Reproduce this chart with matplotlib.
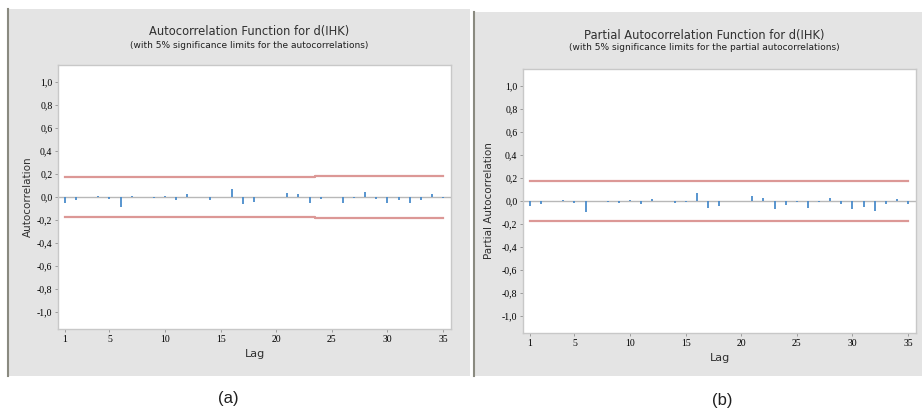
import numpy as np
import matplotlib
matplotlib.use("Agg")
from matplotlib import pyplot as plt
from matplotlib.patches import Rectangle
from matplotlib.lines import Line2D

# lags and estimated values
lags = np.arange(1, 36)
acf_vals = [-0.05, -0.03, 0.0, 0.01, -0.02, -0.09, 0.01, 0.0, -0.01, 0.01,
            -0.025, 0.025, 0.003, -0.025, 0.0, 0.07, -0.06, -0.045, 0.0, 0.0,
            0.035, 0.025, -0.05, -0.015, 0.0, -0.05, -0.012, 0.04, -0.02, -0.055,
            -0.03, -0.05, -0.03, 0.025, -0.01]
acf_limits = [0.174] * 23 + [0.183] * 12
pacf_vals = [-0.047, -0.03, 0.0, 0.01, -0.02, -0.095, 0.0, -0.01, -0.015, 0.01,
             -0.03, 0.015, 0.0, -0.02, -0.01, 0.07, -0.065, -0.047, 0.004, 0.004,
             0.04, 0.03, -0.068, -0.035, -0.01, -0.065, -0.01, 0.03, -0.03, -0.068,
             -0.05, -0.088, -0.025, 0.02, -0.025]
pacf_limit = 0.175

yticks = np.round(np.arange(-1.0, 1.01, 0.2), 1)
xticks = [1, 5, 10, 15, 20, 25, 30, 35]

titles = ["Autocorrelation Function for d(IHK)",
          "Partial Autocorrelation Function for d(IHK)"]
subtitles = ["(with 5% significance limits for the autocorrelations)",
             "(with 5% significance limits for the partial autocorrelations)"]
ylabels = ["Autocorrelation", "Partial Autocorrelation"]
captions = ["(a)", "(b)"]

W, H = 922, 411
fig = plt.figure(figsize=(W / 100, H / 100), dpi=100)
fig.patch.set_facecolor("white")

bg = "#e4e4e4"
bar_col = "#4a8ccc"
lim_col = "#dc9896"


def px(x0, y0, x1, y1):
    # pixel box (top-left origin) -> figure fraction rect
    return [x0 / W, 1 - y1 / H, (x1 - x0) / W, (y1 - y0) / H]


panels = [
    dict(bg=(8, 9, 470, 376), ax=(58, 65, 451, 329), title_y=32, ylab_x=28,
         lag_y=354, cap=(228, 398)),
    dict(bg=(474, 12, 922, 376), ax=(523, 69, 916, 333), title_y=35, ylab_x=489,
         lag_y=358, cap=(722, 400)),
]

for i, p in enumerate(panels):
    x0, y0, x1, y1 = p["bg"]
    r = px(x0, y0, x1, y1)
    fig.patches.append(Rectangle((r[0], r[1]), r[2], r[3], transform=fig.transFigure,
                                 facecolor=bg, edgecolor="none", zorder=-10))
    fig.lines.append(Line2D([x0 / W, x0 / W], [1 - y1 / H, 1 - y0 / H],
                            transform=fig.transFigure, color="#8a8a80", lw=1.5,
                            zorder=-9))

    ax = fig.add_axes(px(*p["ax"]))
    ax.set_facecolor("white")
    vals = acf_vals if i == 0 else pacf_vals
    ax.axhline(0, color="#b8b8b8", lw=1.0, zorder=1)
    ax.vlines(lags, 0, vals, color=bar_col, lw=1.3, zorder=3)
    if i == 0:
        lim = np.array(acf_limits)
        ax.plot(lags, lim, color=lim_col, lw=1.6, drawstyle="steps-mid", zorder=2)
        ax.plot(lags, -lim, color=lim_col, lw=1.6, drawstyle="steps-mid", zorder=2)
    else:
        ax.plot([1, 35], [pacf_limit, pacf_limit], color=lim_col, lw=1.6, zorder=2)
        ax.plot([1, 35], [-pacf_limit, -pacf_limit], color=lim_col, lw=1.6, zorder=2)

    ax.set_xlim(0.37, 35.72)
    ax.set_ylim(-1.15, 1.15)
    ax.set_xticks(xticks)
    ax.set_xticklabels([str(t) for t in xticks], family="Liberation Serif", fontsize=7)
    ax.set_yticks(yticks)
    ax.set_yticklabels([f"{t:.1f}".replace(".", ",").replace("-0,0", "0,0") for t in yticks],
                       family="Liberation Serif", fontsize=7)
    ax.tick_params(length=2, width=0.6, color="#909090", pad=2)
    for s in ax.spines.values():
        s.set_color("#c8c8c8")
        s.set_linewidth(1.0)

    cx = (x0 + x1) / 2 + (10 if i == 0 else 6)
    fig.text(cx / W, 1 - p["title_y"] / H, titles[i], ha="center", va="center",
             fontsize=8.3, family="DejaVu Sans", color="#303030")
    fig.text(cx / W, 1 - (p["title_y"] + 13) / H, subtitles[i], ha="center", va="center",
             fontsize=6.5, family="DejaVu Sans", color="#202020")
    ax_cy = (p["ax"][1] + p["ax"][3]) / 2
    fig.text(p["ylab_x"] / W, 1 - ax_cy / H, ylabels[i], rotation=90, ha="center",
             va="center", fontsize=7.5, family="DejaVu Sans", color="#303030")
    ax_cx = (p["ax"][0] + p["ax"][2]) / 2
    fig.text(ax_cx / W, 1 - p["lag_y"] / H, "Lag", ha="center", va="center",
             fontsize=8, family="DejaVu Sans", color="#303030")
    fig.text(p["cap"][0] / W, 1 - p["cap"][1] / H, captions[i], ha="center",
             va="center", fontsize=12, family="Liberation Sans", color="#202020")

fig.savefig("out.png", dpi=100)
